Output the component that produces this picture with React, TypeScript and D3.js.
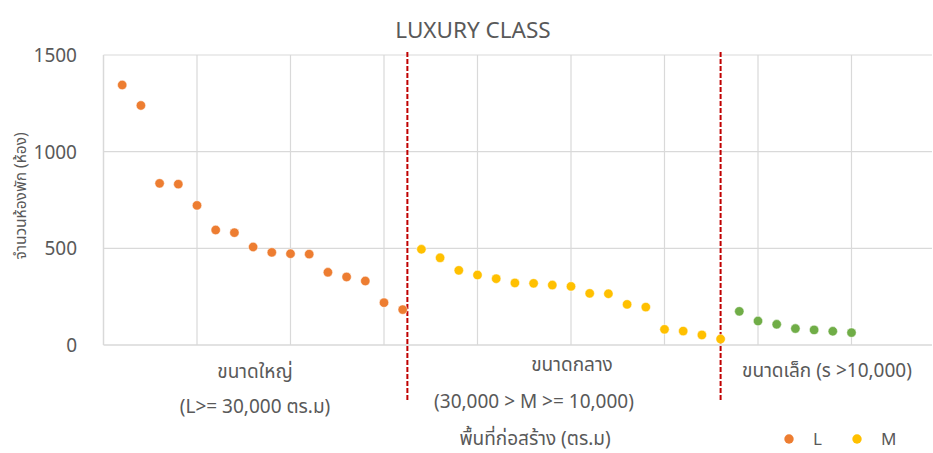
import React from "react";
import * as d3 from "d3";

// Room counts by project, sorted within each size class
const largeValues = [1345, 1239, 836, 832, 722, 595, 581, 507, 479, 472, 470, 376, 352, 331, 219, 183];
const mediumValues = [495, 451, 386, 362, 343, 321, 319, 310, 303, 267, 265, 210, 196, 81, 72, 52, 31];
const smallValues = [174, 124, 107, 85, 78, 71, 64];

const yTicks = [0, 500, 1000, 1500];
const xGridTicks = [0, 5, 10, 15, 20, 25, 30, 35, 40, 45];
const dividers = [16.25, 33];

const W = 933;
const H = 453;
const FONT = "'Noto Sans Thai', Tahoma, 'Noto Sans', 'DejaVu Sans', sans-serif";
const TEXT = "#595959";

const COLORS = { L: "#ED7D31", M: "#FFC000", S: "#70AD47" };

export default function App() {
  const x = d3.scaleLinear().domain([0, 45]).range([103.5, 945]);
  const y = d3.scaleLinear().domain([0, 1500]).range([345, 55]);

  const large = largeValues.map((v, i) => ({ x: i + 1, v }));
  const medium = mediumValues.map((v, i) => ({ x: largeValues.length + i + 1, v }));
  const small = smallValues.map((v, i) => ({ x: largeValues.length + mediumValues.length + i + 1, v }));

  const series = [
    { key: "L", data: large, color: COLORS.L },
    { key: "M", data: medium, color: COLORS.M },
    { key: "S", data: small, color: COLORS.S },
  ];

  return (
    <svg
      width={W}
      height={H}
      style={{ position: "absolute", left: 0, top: 0, background: "#fff" }}
      fontFamily={FONT}
    >
      <defs>
        <clipPath id="plot-clip">
          <rect x={0} y={0} width={932} height={H} />
        </clipPath>
      </defs>
      <rect width={W} height={H} fill="#fff" />

      <text x={473} y={38} textAnchor="middle" fontSize={22.5} fill={TEXT}>
        LUXURY CLASS
      </text>

      <g clipPath="url(#plot-clip)">
        {/* horizontal gridlines */}
        {yTicks.slice(1).map((t) => (
          <line key={"h" + t} x1={x(0)} x2={x(45)} y1={y(t)} y2={y(t)} stroke="#D9D9D9" strokeWidth={1.2} />
        ))}
        {/* vertical gridlines */}
        {xGridTicks.slice(1).map((t) => (
          <line key={"v" + t} x1={x(t)} x2={x(t)} y1={y(1500)} y2={y(0)} stroke="#D9D9D9" strokeWidth={1.2} />
        ))}
        {/* axes */}
        <line x1={x(0)} x2={x(45)} y1={y(0)} y2={y(0)} stroke="#D9D9D9" strokeWidth={1.5} />
        <line x1={x(0)} x2={x(0)} y1={y(1500)} y2={y(0)} stroke="#D9D9D9" strokeWidth={1.5} />
      </g>

      {yTicks.map((t) => (
        <text key={"yl" + t} x={77} y={y(t) + 7} textAnchor="end" fontSize={19} fill={TEXT}>
          {t}
        </text>
      ))}

      <text
        transform={`translate(26, 196) rotate(-90)`}
        textAnchor="middle"
        fontSize={15.5}
        fill={TEXT}
      >
        จำนวนห้องพัก (ห้อง)
      </text>

      {/* size class dividers */}
      {dividers.map((d) => (
        <line
          key={"d" + d}
          x1={x(d)}
          x2={x(d)}
          y1={52}
          y2={401}
          stroke="#C00000"
          strokeWidth={2}
          strokeDasharray="5 2"
        />
      ))}

      {series.map((s) => (
        <g key={s.key}>
          {s.data.map((p) => (
            <circle key={p.x} cx={x(p.x)} cy={y(p.v)} r={4.7} fill={s.color} stroke="#fff" strokeWidth={0.5} />
          ))}
        </g>
      ))}

      {/* class labels */}
      <text x={255} y={378} textAnchor="middle" fontSize={19} fill={TEXT}>ขนาดใหญ่</text>
      <text x={255} y={413} textAnchor="middle" fontSize={19} fill={TEXT}>(L&gt;= 30,000 ตร.ม)</text>
      <text x={572} y={371} textAnchor="middle" fontSize={19} fill={TEXT}>ขนาดกลาง</text>
      <text x={534} y={408} textAnchor="middle" fontSize={19} fill={TEXT}>(30,000 &gt; M &gt;= 10,000)</text>
      <text x={827} y={377} textAnchor="middle" fontSize={19} fill={TEXT}>ขนาดเล็ก (s &gt;10,000)</text>
      <text x={535} y={445} textAnchor="middle" fontSize={19} fill={TEXT}>พื้นที่ก่อสร้าง (ตร.ม)</text>

      {/* legend */}
      <circle cx={789} cy={439} r={4.7} fill={COLORS.L} />
      <text x={813} y={445} fontSize={17} fill={TEXT}>L</text>
      <circle cx={857} cy={439} r={4.7} fill={COLORS.M} />
      <text x={881} y={445} fontSize={17} fill={TEXT}>M</text>
    </svg>
  );
}
